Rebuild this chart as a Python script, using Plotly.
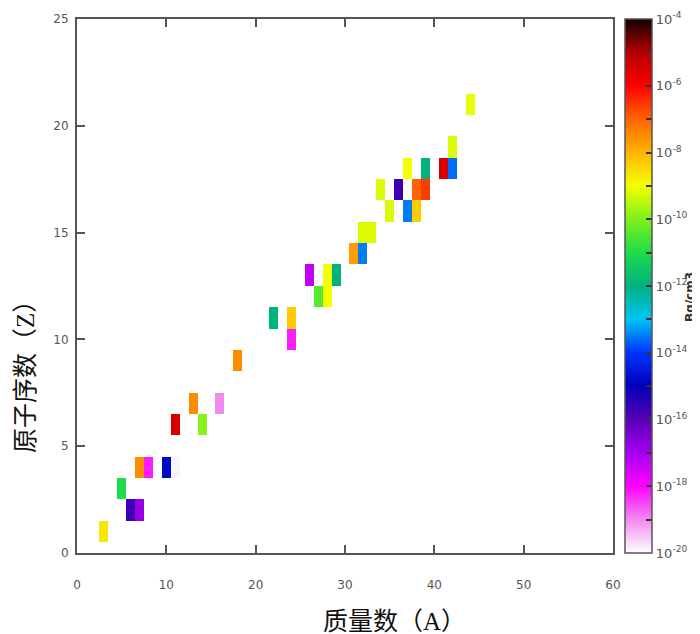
import plotly.graph_objects as go

# Nuclide cells: mass number A, atomic number Z, log10 activity (Bq/cm3)
mass_number = [3, 5, 6, 7, 7, 8, 10, 11, 11, 13, 14, 16, 18, 22, 24, 24, 26, 27, 28, 28, 29,
               31, 32, 32, 33, 34, 35, 36, 37, 37, 38, 38, 39, 39, 41, 42, 42, 44]
atomic_number = [1, 3, 2, 2, 4, 4, 4, 4, 6, 7, 6, 7, 9, 11, 11, 10, 13, 12, 12, 13, 13,
                 14, 14, 15, 15, 17, 16, 17, 16, 18, 16, 17, 17, 18, 18, 18, 19, 21]
log_activity = [-8.7, -11.0, -15.7, -16.8, -7.5, -18.2, -14.8, -19.9, -5.5, -7.5, -9.9, -19.0, -7.5,
                -12.0, -8.3, -18.2, -17.3, -10.4, -9.0, -9.0, -12.0,
                -7.7, -13.5, -9.2, -9.2, -9.2, -9.2, -15.7, -13.5, -9.0, -8.3, -7.0, -6.6, -12.0,
                -5.5, -13.6, -9.2, -9.1]

cbar_tickvals = list(range(-20, -3))
cbar_ticktext = [f"10<sup>{v}</sup>" if v % 2 == 0 else "" for v in cbar_tickvals]
x_ticks = [0, 10, 20, 30, 40, 50, 60]
y_ticks = [0, 5, 10, 15, 20, 25]

grid_x = list(range(0, 61))
grid_y = list(range(0, 26))
grid_z = [[None for _ in grid_x] for _ in grid_y]
for a, zz, v in zip(mass_number, atomic_number, log_activity):
    grid_z[zz][a] = v

colorscale = [
    [0 / 16, "#ffffff"],
    [1 / 16, "#f08af0"],
    [2 / 16, "#ff00ff"],
    [3 / 16, "#a600f2"],
    [4 / 16, "#5a00b4"],
    [5 / 16, "#0000b8"],
    [6 / 16, "#0033ff"],
    [7 / 16, "#00c4f4"],
    [8 / 16, "#00b27e"],
    [9 / 16, "#1edc4a"],
    [10 / 16, "#7ef01c"],
    [11 / 16, "#f4ff00"],
    [12 / 16, "#ffb400"],
    [13 / 16, "#ff6400"],
    [14 / 16, "#ff0000"],
    [15 / 16, "#b40000"],
    [16 / 16, "#120000"],
]

# page offset from the default 8px body margin
OFF = 8
W, H = 700 - OFF, 634 - OFF
PL, PR, PT, PB = 77 - OFF, 613 - OFF, 19 - OFF, 553 - OFF
pw, ph = PR - PL, PB - PT

def px(xp):
    return (xp - OFF - PL) / pw

def py(yp):
    return (PB - (yp - OFF)) / ph

fig = go.Figure()
fig.add_trace(go.Heatmap(
    x=grid_x, y=grid_y, z=grid_z,
    zmin=-20, zmax=-4,
    colorscale=colorscale,
    hoverongaps=False,
    colorbar=dict(
        x=px(625), xanchor="left", xpad=0,
        y=0.5, yanchor="middle", len=1, lenmode="fraction", ypad=0,
        thickness=27,
        outlinecolor="#555", outlinewidth=1.5,
        tickvals=cbar_tickvals, ticktext=cbar_ticktext,
        ticks="inside", ticklen=6, tickcolor="#333", tickwidth=1.5,
        tickfont=dict(family="DejaVu Sans", size=13, color="#555"),
    ),
))

axis_common = dict(
    showgrid=False, zeroline=False,
    showline=True, linecolor="#555", linewidth=2, mirror="ticks",
    ticks="inside", ticklen=8, tickwidth=1.5, tickcolor="#555",
    tickfont=dict(family="DejaVu Sans", size=12, color="#555"),
)

fig.update_layout(
    width=W, height=H,
    margin=dict(l=PL, r=W - PR, t=PT, b=H - PB, autoexpand=False),
    paper_bgcolor="white", plot_bgcolor="white",
    xaxis=dict(range=[0, 60], tickvals=x_ticks, ticklabelstandoff=20, **axis_common),
    yaxis=dict(range=[0, 25], tickvals=y_ticks, ticklabelstandoff=4, **axis_common),
    annotations=[
        dict(text="质量数（A）", xref="paper", yref="paper",
             x=px(394), y=py(621), xanchor="center", yanchor="middle",
             showarrow=False, font=dict(family="Liberation Serif, Noto Sans CJK SC", size=25, color="#111")),
        dict(text="原子序数（Z）", xref="paper", yref="paper",
             x=px(25), y=py(371), xanchor="center", yanchor="middle",
             showarrow=False, textangle=-90,
             font=dict(family="Liberation Serif, Noto Sans CJK SC", size=25, color="#111")),
        dict(text="<b>Bq/cm3</b>", xref="paper", yref="paper",
             x=px(690), y=py(297), xanchor="center", yanchor="middle",
             showarrow=False, textangle=-90,
             font=dict(family="DejaVu Sans", size=12, color="#333")),
    ],
)

fig.write_html("out.html")
